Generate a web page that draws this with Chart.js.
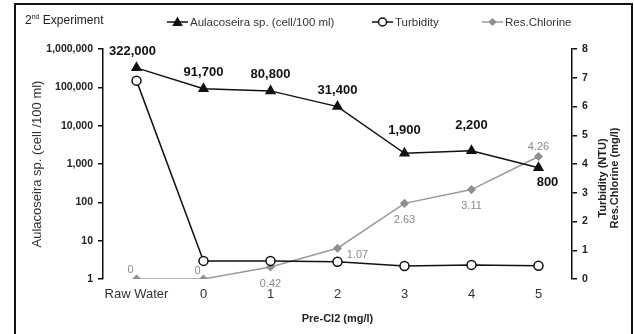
<!DOCTYPE html>
<html>
<head>
<meta charset="utf-8">
<script src="https://cdn.jsdelivr.net/npm/chart.js@4.4.1/dist/chart.umd.min.js"></script>
<style>
  html, body { margin: 0; padding: 0; background: #fff; }
  #wrap { position: relative; width: 634px; height: 334px; }
  #heading { position: absolute; left: 25px; top: 13px; font: 12px "Liberation Sans", Arial, sans-serif; color: #222; }
  #heading sup { font-size: 7px; }
</style>
</head>
<body>
<div id="wrap">
  <canvas id="chlorineChart" width="634" height="334"></canvas>
  <div id="heading">2<sup>nd</sup> Experiment</div>
</div>
<script>
// values
const doses = ['Raw Water', '0', '1', '2', '3', '4', '5'];
const aulacoseira = [322000, 91700, 80800, 31400, 1900, 2200, 800];
const turbidity = [6.9, 0.63, 0.63, 0.6, 0.45, 0.49, 0.46];
const resChlorine = [0, 0, 0.42, 1.07, 2.63, 3.11, 4.26];
const logTicks = [1, 10, 100, 1000, 10000, 100000, 1000000];

const FONT = '"Liberation Sans", Arial, sans-serif';
Chart.defaults.font.family = FONT;

// small shape helpers used by the legend
function marker(ctx, style, x, y, r, fill, stroke) {
    ctx.save();
    ctx.fillStyle = fill;
    ctx.strokeStyle = stroke;
    ctx.lineWidth = 1.5;
    ctx.beginPath();
    if (style === 'triangle') {
        ctx.moveTo(x, y - r);
        ctx.lineTo(x + r, y + r * 0.8);
        ctx.lineTo(x - r, y + r * 0.8);
        ctx.closePath();
    } else if (style === 'rectRot') {
        ctx.moveTo(x, y - r);
        ctx.lineTo(x + r, y);
        ctx.lineTo(x, y + r);
        ctx.lineTo(x - r, y);
        ctx.closePath();
    } else {
        ctx.arc(x, y, r, 0, Math.PI * 2);
    }
    ctx.fill();
    ctx.stroke();
    ctx.restore();
}

const framePlugin = {
    id: 'frame',
    afterDraw(chart) {
        const ctx = chart.ctx;
        ctx.save();
        ctx.strokeStyle = '#111';
        ctx.lineWidth = 2;
        ctx.beginPath();
        ctx.moveTo(15, 340);
        ctx.lineTo(15, 4);
        ctx.lineTo(632, 4);
        ctx.lineTo(632, 340);
        ctx.stroke();
        ctx.restore();
    }
};

const legendPlugin = {
    id: 'topLegend',
    afterDraw(chart) {
        const ctx = chart.ctx;
        const starts = [167, 372, 482];
        const y = 22;
        chart.data.datasets.forEach((ds, i) => {
            const x = starts[i];
            ctx.save();
            ctx.strokeStyle = ds.borderColor;
            ctx.lineWidth = 1.5;
            ctx.beginPath();
            ctx.moveTo(x, y);
            ctx.lineTo(x + 21, y);
            ctx.stroke();
            ctx.restore();
            marker(ctx, ds.pointStyle, x + 10.5, y, ds.pointStyle === 'rectRot' ? 3 : 4,
                   ds.pointBackgroundColor, ds.pointBorderColor);
            ctx.save();
            ctx.fillStyle = '#333';
            ctx.font = '11.5px ' + FONT;
            ctx.textBaseline = 'middle';
            ctx.fillText(ds.label, x + 23, y + 1);
            ctx.restore();
        });
    }
};

// value labels next to the points
const algaeOffsets = [[-4, -16], [0, -16], [0, -16], [0, -16], [0, -23], [0, -25], [9, 15]];
const chlorineOffsets = [[-6, -9], [-6, -8], [0, 17], [20, 7], [0, 17], [0, 16], [0, -10]];

const valueLabels = {
    id: 'valueLabels',
    afterDatasetsDraw(chart) {
        const ctx = chart.ctx;
        ctx.save();
        ctx.textAlign = 'center';
        ctx.textBaseline = 'middle';
        const algae = chart.getDatasetMeta(0).data;
        ctx.font = 'bold 13px ' + FONT;
        ctx.fillStyle = '#111';
        algae.forEach((pt, i) => {
            ctx.fillText(aulacoseira[i].toLocaleString('en-US'), pt.x + algaeOffsets[i][0], pt.y + algaeOffsets[i][1]);
        });
        const chl = chart.getDatasetMeta(2).data;
        ctx.font = '11px ' + FONT;
        ctx.fillStyle = '#8a8a8a';
        chl.forEach((pt, i) => {
            ctx.fillText(String(resChlorine[i]), pt.x + chlorineOffsets[i][0], pt.y + chlorineOffsets[i][1]);
        });
        ctx.restore();
    }
};

// right axis title reads bottom-to-top, on two lines
const rightTitle = {
    id: 'rightTitle',
    afterDraw(chart) {
        const ctx = chart.ctx;
        ctx.save();
        ctx.font = 'bold 11px ' + FONT;
        ctx.fillStyle = '#222';
        ctx.textAlign = 'center';
        ctx.textBaseline = 'middle';
        ctx.translate(603, 178);
        ctx.rotate(-Math.PI / 2);
        ctx.fillText('Turbidity (NTU)', 0, 0);
        ctx.fillText('Res.Chlorine (mg/l)', 0, 12);
        ctx.restore();
    }
};

const ctx = document.getElementById('chlorineChart').getContext('2d');
const chart = new Chart(ctx, {
    type: 'line',
    data: {
        labels: doses,
        datasets: [
            {
                label: 'Aulacoseira sp. (cell/100 ml)',
                data: aulacoseira,
                yAxisID: 'y',
                borderColor: '#111',
                borderWidth: 1.5,
                pointStyle: 'triangle',
                pointRadius: 5,
                pointBackgroundColor: '#111',
                pointBorderColor: '#111',
                order: 1
            },
            {
                label: 'Turbidity',
                data: turbidity,
                yAxisID: 'y2',
                borderColor: '#111',
                borderWidth: 1.5,
                pointStyle: 'circle',
                pointRadius: 4.5,
                pointBorderWidth: 1.5,
                pointBackgroundColor: '#fff',
                pointBorderColor: '#111',
                order: 2
            },
            {
                label: 'Res.Chlorine',
                data: resChlorine,
                yAxisID: 'y2',
                borderColor: '#9a9a9a',
                borderWidth: 1.5,
                pointStyle: 'rectRot',
                pointRadius: 3.5,
                pointBackgroundColor: '#8f8f8f',
                pointBorderColor: '#8f8f8f',
                order: 3
            }
        ]
    },
    options: {
        responsive: false,
        animation: false,
        layout: { padding: { top: 49, bottom: 0, left: 0, right: 0 } },
        plugins: {
            legend: { display: false },
            tooltip: { enabled: false }
        },
        scales: {
            x: {
                offset: true,
                grid: { display: false, drawTicks: false },
                border: { display: false },
                ticks: { font: { size: 13 }, color: '#333', padding: 8, maxRotation: 0, autoSkip: false },
                title: { display: true, text: 'Pre-Cl2 (mg/l)', font: { size: 11, weight: 'bold' }, color: '#222', padding: { top: 0, bottom: 8 } },
                afterFit: s => { s.height = 55; }
            },
            y: {
                type: 'logarithmic',
                position: 'left',
                min: 1,
                max: 1000000,
                afterBuildTicks: s => { s.ticks = logTicks.map(v => ({ value: v })); },
                afterFit: s => { s.width = 103; },
                border: { display: true, color: '#111', width: 1.5 },
                grid: { drawOnChartArea: false, drawTicks: true, tickLength: 5, color: '#111', lineWidth: 1.5 },
                ticks: { font: { size: 10.5, weight: 'bold' }, color: '#222', padding: 5, callback: v => Number(v).toLocaleString('en-US') },
                title: { display: true, text: 'Aulacoseira sp. (cell /100 ml)', font: { size: 13 }, color: '#333', padding: { top: 30, bottom: 0 } }
            },
            y2: {
                type: 'linear',
                position: 'right',
                min: 0,
                max: 8,
                afterFit: s => { s.width = 62; },
                border: { display: true, color: '#111', width: 1.5 },
                grid: { drawOnChartArea: false, drawTicks: true, tickLength: 5, color: '#111', lineWidth: 1.5 },
                ticks: { stepSize: 1, font: { size: 10.5, weight: 'bold' }, color: '#222', padding: 5 }
            }
        }
    },
    plugins: [valueLabels, legendPlugin, rightTitle, framePlugin]
});
</script>
</body>
</html>
